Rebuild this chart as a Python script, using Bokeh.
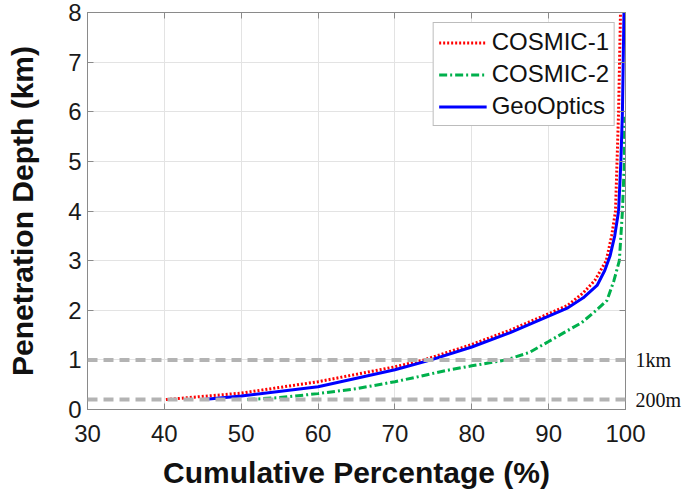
from bokeh.plotting import figure
from bokeh.models import Range1d, LinearAxis, Span, Legend, LegendItem, FixedTicker
from bokeh.embed import file_html
from bokeh.resources import INLINE

# ---- data ----
cosmic1_x = [40.2, 50, 60, 70, 73.8, 80, 85, 90, 92.5, 94.5, 96.0, 97.5, 98.2, 98.7, 98.9, 99.1, 99.35]
cosmic1_y = [0.2, 0.33, 0.56, 0.86, 1.0, 1.31, 1.6, 1.93, 2.1, 2.35, 2.6, 3.0, 3.5, 4.0, 5.0, 6.0, 8.0]

cosmic2_x = [50.8, 55, 60, 65, 70, 73, 76.8, 80, 84.5, 87.5, 90, 92, 94.3, 96.2, 97.6, 98.5, 99.2, 99.6, 99.85, 99.9]
cosmic2_y = [0.2, 0.24, 0.32, 0.42, 0.56, 0.66, 0.79, 0.88, 1.0, 1.15, 1.37, 1.55, 1.75, 2.0, 2.2, 2.6, 3.0, 4.0, 5.0, 5.9]

geo_x = [45.1, 50, 60, 70, 74.7, 80, 85, 90, 92.5, 94.5, 96.3, 97.3, 98.0, 98.6, 99.1, 99.4, 99.6, 99.8]
geo_y = [0.2, 0.27, 0.46, 0.8, 1.0, 1.26, 1.55, 1.88, 2.05, 2.25, 2.5, 2.8, 3.1, 3.5, 4.0, 5.0, 6.0, 8.0]

ref_levels = [1.0, 0.2]
ref_labels = ["1km", "200m"]

x_ticks = [30, 40, 50, 60, 70, 80, 90, 100]
y_ticks = [0, 1, 2, 3, 4, 5, 6, 7, 8]

FONT = "Liberation Sans"
AX_COL = "#8a8a8a"

p = figure(width=685, height=500, output_backend="svg", toolbar_location=None,
           x_range=Range1d(30, 100), y_range=Range1d(0, 8),
           min_border_left=87, min_border_right=60, min_border_top=12, min_border_bottom=91)

p.outline_line_color = AX_COL
p.outline_line_width = 1

for ax in (p.xaxis[0], p.yaxis[0]):
    ax.axis_line_color = AX_COL
    ax.major_tick_line_color = AX_COL
    ax.major_tick_in = 6
    ax.major_tick_out = 0
    ax.minor_tick_line_color = None
    ax.major_label_text_font = FONT
    ax.major_label_text_font_size = "24px"
    ax.major_label_text_color = "#1a1a1a"
    ax.axis_label_text_font = FONT
    ax.axis_label_text_font_size = "30px"
    ax.axis_label_text_font_style = "bold"
    ax.axis_label_text_color = "#111111"

p.xaxis.ticker = FixedTicker(ticks=x_ticks)
p.yaxis.ticker = FixedTicker(ticks=y_ticks)
p.xaxis.axis_label = "Cumulative Percentage (%)"
p.yaxis.axis_label = "Penetration Depth (km)"
p.xaxis.major_label_standoff = 15
p.xaxis.axis_label_standoff = 11
p.yaxis.major_label_standoff = 6
p.yaxis.axis_label_standoff = 26

# right box axis: inward ticks, labels only for the reference levels
right_ticks = sorted(set(y_ticks + ref_levels))
overrides = {t: "" for t in right_ticks}
for lvl, lab in zip(ref_levels, ref_labels):
    overrides[lvl] = lab
right_ax = LinearAxis(ticker=FixedTicker(ticks=right_ticks), major_label_overrides=overrides,
                      major_label_text_font="Liberation Serif", major_label_text_font_size="20px",
                      major_label_text_color="#111111", major_label_standoff=10,
                      axis_line_color=AX_COL, major_tick_line_color=AX_COL,
                      major_tick_in=6, major_tick_out=0, minor_tick_line_color=None)
p.add_layout(right_ax, "right")

top_ax = LinearAxis(ticker=FixedTicker(ticks=x_ticks), major_label_text_color=None,
                    major_label_text_font_size="1px", major_label_standoff=0,
                    axis_line_color=AX_COL, major_tick_line_color=AX_COL,
                    major_tick_in=6, major_tick_out=0, minor_tick_line_color=None)
p.add_layout(top_ax, "above")

p.grid.grid_line_color = "#e3e3e3"
p.grid.grid_line_width = 1

# reference lines
for lvl in ref_levels:
    p.add_layout(Span(location=lvl, dimension="width", line_color="#b3b3b3",
                      line_width=4, line_dash="10 6"))

r1 = p.line(cosmic1_x, cosmic1_y, line_color="#ff0000", line_width=3, line_dash="2 2")
r2 = p.line(cosmic2_x, cosmic2_y, line_color="#00b04c", line_width=3, line_dash="8 3 2 3")
r3 = p.line(geo_x, geo_y, line_color="#0000ff", line_width=3)

legend = Legend(items=[LegendItem(label="COSMIC-1", renderers=[r1]),
                       LegendItem(label="COSMIC-2", renderers=[r2]),
                       LegendItem(label="GeoOptics", renderers=[r3])],
                location="top_right")
legend.label_text_font = FONT
legend.label_text_font_size = "24px"
legend.label_text_color = "#111111"
legend.glyph_width = 48
legend.glyph_height = 27
legend.label_height = 27
legend.label_standoff = 5
legend.spacing = 4
legend.padding = 5
legend.margin = 10
legend.border_line_color = "#7a7a7a"
legend.border_line_width = 1
legend.background_fill_alpha = 1
p.add_layout(legend)

open("out.html", "w").write(file_html(p, INLINE))
